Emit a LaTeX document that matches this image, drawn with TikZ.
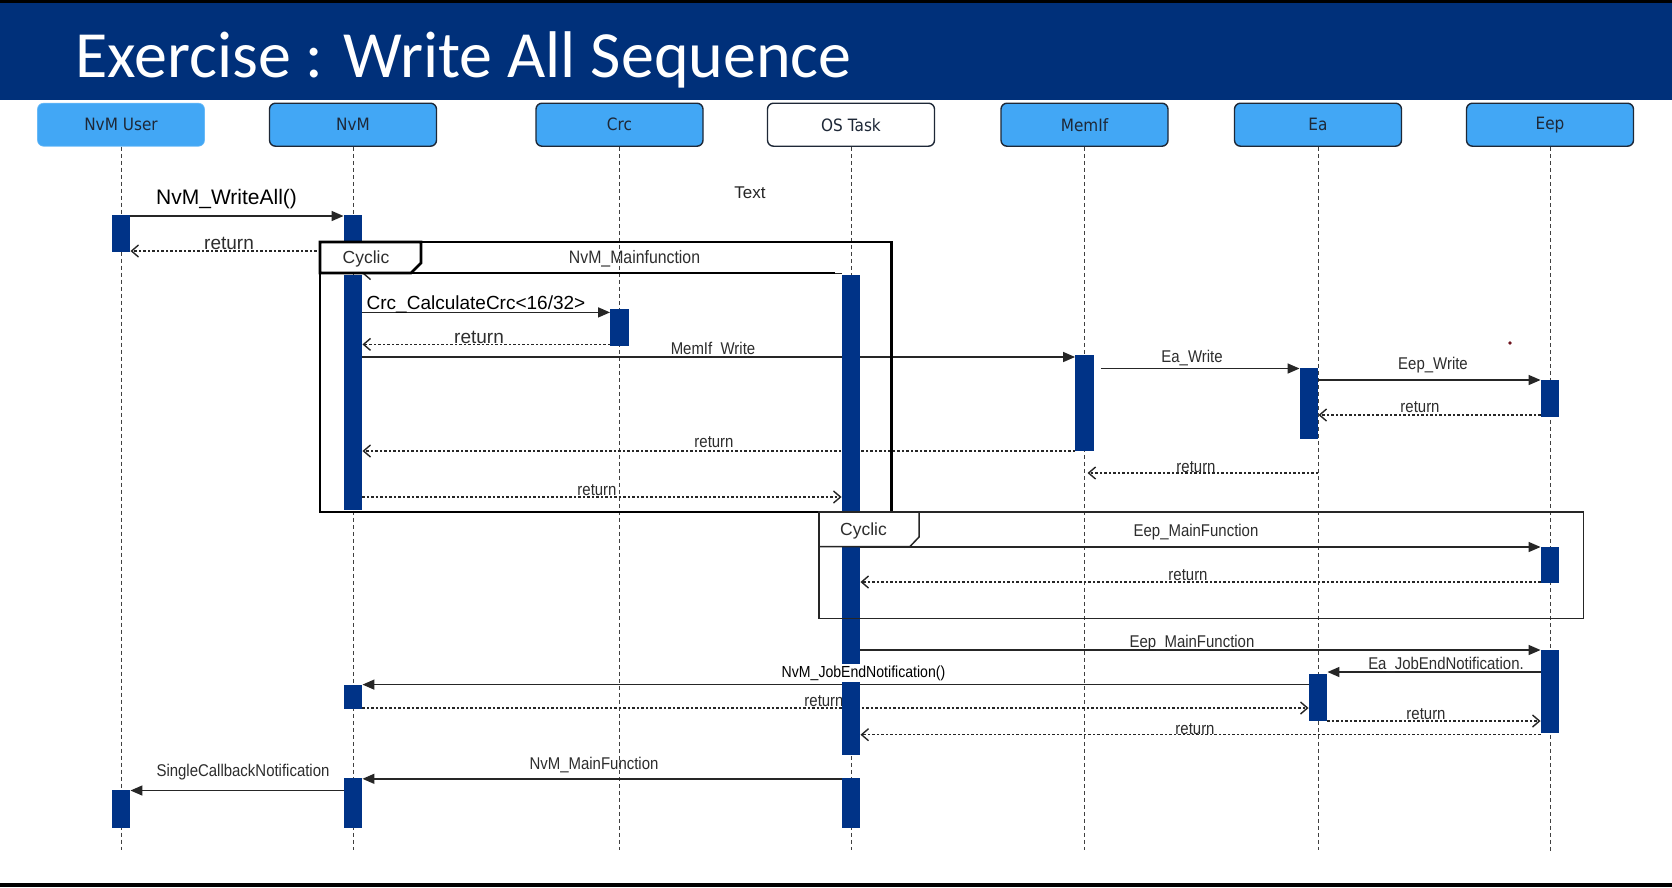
\documentclass[tikz,border=0pt]{standalone}
\usepackage{fontspec}
\setmainfont{Liberation Sans}
\newfontfamily\titlefont{Carlito}
\newfontfamily\headfont[FakeStretch=0.9]{DejaVu Sans}
\newfontfamily\lblfont[FakeStretch=0.88]{Liberation Sans}
\usetikzlibrary{arrows.meta}
\definecolor{titleblue}{RGB}{0,48,122}
\definecolor{actblue}{RGB}{0,51,135}
\definecolor{headblue}{RGB}{66,167,245}
\definecolor{headline}{RGB}{30,40,55}
\definecolor{lblgray}{RGB}{45,45,45}
\definecolor{dotred}{RGB}{110,20,30}
\begin{document}
\begin{tikzpicture}[x=1pt,y=-1pt,
  head/.style={rectangle, rounded corners=6pt, draw=headline, line width=1.4pt, fill=headblue, minimum width=167pt, minimum height=43pt, inner sep=0pt, font=\headfont\fontsize{17}{19}\selectfont, text=headline},
  lifeline/.style={draw=black!75, line width=0.9pt, dash pattern=on 4pt off 3pt},
  act/.style={rectangle, fill=actblue, draw=none, minimum width=18.5pt, inner sep=0pt, anchor=north},
  call/.style={draw=black!85, line width=1.5pt, -{Triangle[length=12pt,width=10pt]}},
  ret/.style={draw=black!85, line width=1.3pt, dash pattern=on 2.5pt off 2pt, -{Straight Barb[length=7pt,width=12pt,line width=1.4pt]}},
  lbl/.style={font=\lblfont\fontsize{17}{19}\selectfont, text=lblgray, inner sep=1pt},
  retbig/.style={font=\fontsize{19}{21}\selectfont, text=lblgray, inner sep=1pt},
  note/.style={font=\fontsize{21}{24}\selectfont, text=black, inner sep=1pt},
  framebox/.style={draw=black, line width=2.6pt},
  framethin/.style={draw=black!85, line width=1.5pt},
  cyc/.style={font=\fontsize{17.5}{19}\selectfont, text=lblgray, inner sep=0pt}
]
\useasboundingbox (0,0) rectangle (1672,887);
\fill[white] (0,0) rectangle (1672,887);
% title bar
\fill[titleblue] (0,0) rectangle (1672,100);
\fill[black] (0,0) rectangle (1672,3);
\fill[black] (0,883) rectangle (1672,887);
\node[anchor=base west, text=white, font=\titlefont\fontsize{66}{70}\selectfont, inner sep=0pt] (title) at (75,77) {Exercise : Write All Sequence};

% lifeline heads
\node[head, draw=headblue!80!white, line width=0.6pt] (hU) at (121,124.7) {NvM User};
\node[head] (hN) at (353,124.7) {NvM};
\node[head] (hC) at (619.5,124.7) {Crc};
\node[head, fill=white] (hO) at (851,124.7) {OS Task};
\node[head] (hM) at (1084.5,124.7) {MemIf};
\node[head] (hA) at (1318,124.7) {Ea};
\node[head] (hE) at (1550,124.7) {Eep};

\coordinate (eU) at (121,850);
\coordinate (eN) at (353,850);
\coordinate (eC) at (619.5,850);
\coordinate (eO) at (851,850);
\coordinate (eM) at (1084.5,850);
\coordinate (eA) at (1318,850);
\coordinate (eE) at (1550,853);
\draw[lifeline] (hU.south) -- (eU);
\draw[lifeline] (hN.south) -- (eN);
\draw[lifeline] (hC.south) -- (eC);
\draw[lifeline] (hO.south) -- (eO);
\draw[lifeline] (hM.south) -- (eM);
\draw[lifeline] (hA.south) -- (eA);
\draw[lifeline] (hE.south) -- (eE);

% activation nodes (filled later)
\path
  node[act, minimum height=37pt] (u1) at (121,215) {}
  node[act, minimum height=37.5pt] (u2) at (121,790) {}
  node[act, minimum height=37pt] (n1) at (353,215) {}
  node[act, minimum height=235pt] (n2) at (353,275) {}
  node[act, minimum height=23.5pt] (n3) at (353,684.6) {}
  node[act, minimum height=49pt] (n4) at (353,778.4) {}
  node[act, minimum height=36.5pt] (c1) at (619.5,309) {}
  node[act, minimum height=480pt] (o1) at (851,275) {}
  node[act, minimum height=49pt] (o2) at (851,778.4) {}
  node[act, minimum height=96pt] (m1) at (1084.5,355) {}
  node[act, minimum height=71pt] (a1) at (1309,368) {}
  node[act, minimum height=47pt] (a2) at (1318,674) {}
  node[act, minimum height=36.5pt] (e1) at (1550,379.6) {}
  node[act, minimum height=36pt] (e2) at (1550,547) {}
  node[act, minimum height=82.5pt] (e3) at (1550,650) {};

% message rows
\coordinate (y1) at (0,216);
\coordinate (y2) at (0,251);
\coordinate (y3) at (0,273.5);
\coordinate (y4) at (0,312.4);
\coordinate (y5) at (0,344.4);
\coordinate (y6) at (0,357);
\coordinate (y7) at (0,368.5);
\coordinate (y8) at (0,380);
\coordinate (y9) at (0,415);
\coordinate (y10) at (0,451);
\coordinate (y11) at (0,473);
\coordinate (y12) at (0,497);
\coordinate (y13) at (0,547);
\coordinate (y14) at (0,582);
\coordinate (y15) at (0,650);
\coordinate (y16) at (0,672);
\coordinate (y17) at (0,684.6);
\coordinate (y18) at (0,708);
\coordinate (y19) at (0,721);
\coordinate (y20) at (0,734.7);
\coordinate (y21) at (0,778.8);
\coordinate (y22) at (0,790.5);

% messages
\draw[call] (u1.east |- y1) -- (n1.west |- y1);
\node[note] (l1) at (226.6,199) {NvM\_WriteAll()};
\draw[ret] (n1.west |- y2) -- (u1.east |- y2);
\node[retbig] (l2) at (229,243.5) {return};
\draw[draw=black!85, line width=1pt, -{Straight Barb[length=7pt,width=12pt,line width=1.4pt]}] (o1.west |- y3) -- (n2.east |- y3);
\draw[call] (n2.east |- y4) -- (c1.west |- y4);
\node[note, font=\fontsize{19}{21}\selectfont] (l4) at (476,304) {Crc\_CalculateCrc<16/32>};
\draw[ret] (c1.west |- y5) -- (n2.east |- y5);
\node[retbig] (l5) at (479,337) {return};
\draw[call] (n2.east |- y6) -- (m1.west |- y6);
\node[lbl] (l6) at (713,350) {MemIf\_Write};
\draw[call] ([xshift=7pt]m1.east |- y7) -- (a1.west |- y7);
\node[lbl] (l7) at (1192,358) {Ea\_Write};
\draw[call] (a1.east |- y8) -- (e1.west |- y8);
\node[lbl] (l8) at (1433,365) {Eep\_Write};
\draw[ret] (e1.west |- y9) -- (a1.east |- y9);
\node[lbl] (l9) at (1420,407) {return};
\draw[ret] (m1.west |- y10) -- (n2.east |- y10);
\node[lbl] (l10) at (714,442.5) {return};
\draw[ret] (eA |- y11) -- ([xshift=3pt]eM |- y11);
\node[lbl] (l11) at (1196,467) {return};
\draw[ret] (n2.east |- y12) -- (o1.west |- y12);
\node[lbl] (l12) at (597,490.5) {return};
\draw[call] (o1.east |- y13) -- (e2.west |- y13);
\node[lbl] (l13) at (1196,532) {Eep\_MainFunction};
\draw[ret] (e2.west |- y14) -- (o1.east |- y14);
\node[lbl] (l14) at (1188,575) {return};
\draw[call] (o1.east |- y15) -- (e3.west |- y15);
\node[lbl] (l15) at (1192,643) {Eep\_MainFunction};
\draw[call] (e3.west |- y16) -- (a2.east |- y16);
\node[lbl] (l16) at (1446,665.5) {Ea\_JobEndNotification.};
\draw[call] (a2.west |- y17) -- (n3.east |- y17);
\draw[ret] (n3.east |- y18) -- (a2.west |- y18);
\node[lbl] (l18) at (824,701) {return};
\draw[ret] (a2.east |- y19) -- (e3.west |- y19);
\node[lbl] (l19) at (1426,714) {return};
\draw[ret] (e3.west |- y20) -- (o1.east |- y20);
\node[lbl] (l20) at (1195,729.5) {return};
\draw[call] (o2.west |- y21) -- (n4.east |- y21);
\node[lbl] (l21) at (594,765) {NvM\_MainFunction};
\draw[call] (n4.west |- y22) -- (u2.east |- y22);
\node[lbl] (l22) at (243,772.5) {SingleCallbackNotification};

\node[font=\fontsize{17}{19}\selectfont, text=black!85] (txt) at (750,193) {Text};
\fill[dotred] (1510,343) circle (1.8);

% activation bars
\foreach \a in {u1,u2,n1,n2,n3,n4,c1,o1,o2,m1,a1,a2,e1,e2,e3}
  \fill[actblue] (\a.north west) rectangle (\a.south east);

% frame 1
\draw[framebox] (320,242) rectangle (891.5,512);
\draw[framebox, fill=white] (320,242) -- (421,242) -- (421,263) -- (411,273) -- (320,273) -- cycle;
\draw[draw=black, line width=2.6pt] (411,273) -- (835,273);
\node[cyc] (c1t) at (366,259) {Cyclic};
\node[lbl, font=\lblfont\fontsize{18}{20}\selectfont] (l3) at (634.5,259) {NvM\_Mainfunction};

% frame 2
\draw[framethin] (819,512) rectangle (1583.5,618.5);
\draw[framethin, fill=white] (819,512) -- (919,512) -- (919,537) -- (910,546.5) -- (819,546.5) -- cycle;
\node[cyc] (c2t) at (863.5,531) {Cyclic};

% label with white background over OS Task bar
\node[lbl, fill=white, text=black, font=\lblfont\fontsize{16}{18}\selectfont, inner ysep=2pt] (l17) at (863.5,673) {NvM\_JobEndNotification()};
\end{tikzpicture}
\end{document}
